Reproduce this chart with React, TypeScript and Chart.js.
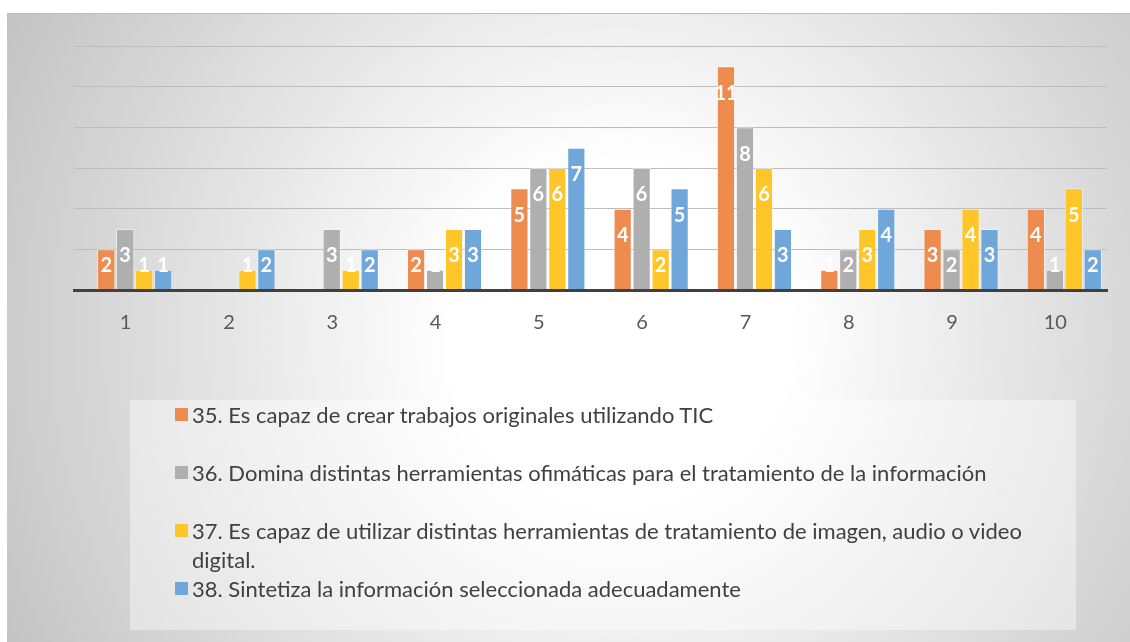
import React, { useEffect, useRef } from "react";
import { Chart, registerables } from "chart.js";

Chart.register(...registerables);

const categories = ["1", "2", "3", "4", "5", "6", "7", "8", "9", "10"];
const seriesLabels = [
  "35. Es capaz de crear trabajos originales utilizando TIC",
  "36. Domina distintas herramientas ofimáticas para el tratamiento de la información",
  "37. Es capaz de utilizar distintas herramientas de tratamiento de imagen, audio o video digital.",
  "38. Sintetiza la información seleccionada adecuadamente",
];
const s35 = [2, 0, 0, 2, 5, 4, 11, 1, 3, 4];
const s36 = [3, 0, 3, 1, 6, 6, 8, 2, 2, 1];
const s37 = [1, 1, 1, 3, 6, 2, 6, 3, 4, 5];
const s38 = [1, 2, 2, 3, 7, 5, 3, 4, 3, 2];
const seriesValues = [s35, s36, s37, s38];
const seriesColors = ["#EE8B4F", "#AFAFAF", "#FFC629", "#6FA7DA"];
const yMax = 12;
const yStep = 2;

const FONT = "Lato, 'Open Sans', sans-serif";
const GROUP_SHIFT = 9;

const shiftPlugin = {
  id: "groupShift",
  beforeDatasetsDraw(chart: any) {
    chart.ctx.save();
    chart.ctx.translate(GROUP_SHIFT, 0);
  },
  afterDatasetsDraw(chart: any) {
    chart.ctx.restore();
  },
};

const labelPlugin = {
  id: "barLabels",
  afterDatasetsDraw(chart: any) {
    const ctx = chart.ctx;
    const base = chart.scales.y.getPixelForValue(0);
    ctx.save();
    ctx.fillStyle = "#ffffff";
    ctx.font = `bold 20px ${FONT}`;
    ctx.textAlign = "center";
    ctx.textBaseline = "middle";
    chart.data.datasets.forEach((ds: any, i: number) => {
      const meta = chart.getDatasetMeta(i);
      meta.data.forEach((bar: any, j: number) => {
        const v = ds.data[j];
        if (!v) return;
        const y = Math.min(bar.y + 27, base - 24);
        ctx.fillText(String(v), bar.x + GROUP_SHIFT, y);
      });
    });
    ctx.restore();
  },
};

export default function App() {
  const ref = useRef<HTMLCanvasElement | null>(null);

  useEffect(() => {
    document.body.style.margin = "0";
    if (!ref.current) return;
    const chart = new Chart(ref.current, {
      type: "bar",
      data: {
        labels: categories,
        datasets: seriesValues.map((vals, i) => ({
          label: seriesLabels[i],
          data: vals,
          backgroundColor: seriesColors[i],
          borderColor: "rgba(255,255,255,0.45)",
          borderWidth: 1,
          categoryPercentage: 0.735,
          barPercentage: 0.96,
        })),
      },
      options: {
        animation: false,
        responsive: false,
        maintainAspectRatio: false,
        layout: { padding: { left: 67, right: 23, top: 32, bottom: 287 } },
        plugins: { legend: { display: false }, tooltip: { enabled: false } },
        scales: {
          x: {
            grid: { display: false, drawTicks: false },
            border: { display: true, color: "#404040", width: 3, z: 1 },
            ticks: {
              color: "#595959",
              font: { family: FONT, size: 20 },
              padding: 21,
            },
          },
          y: {
            min: 0,
            max: yMax,
            ticks: { stepSize: yStep, display: false },
            grid: { color: "#bdbdbd", lineWidth: 1, drawTicks: false },
            border: { display: false },
            afterFit: (s: any) => {
              s.width = 0;
            },
          },
        },
      },
      plugins: [shiftPlugin, labelPlugin],
    });
    return () => chart.destroy();
  }, []);

  return (
    <div style={{ position: "relative", width: 1130, height: 642, background: "#fff", overflow: "hidden" }}>
      <div
        style={{
          position: "absolute",
          left: 7,
          top: 13,
          width: 1123,
          height: 629,
          borderTop: "1px solid #bdbdbd",
          boxSizing: "border-box",
          background: "radial-gradient(circle at 613px 320px, #ffffff 170px, #c2c2c2 700px)",
        }}
      >
        <canvas ref={ref} width={1123} height={629} style={{ position: "absolute", left: 0, top: 0 }} />
        <div
          style={{
            position: "absolute",
            left: 123,
            top: 386,
            width: 946,
            height: 230,
            background: "rgba(255,255,255,0.4)",
            fontFamily: FONT,
            fontSize: 22,
            color: "#404040",
          }}
        >
          {seriesLabels.map((lab, i) => (
            <div key={i} style={{ position: "relative", height: 58, lineHeight: "29px", paddingLeft: 62, width: 940, boxSizing: "border-box" }}>
              <span
                style={{
                  position: "absolute",
                  left: 45,
                  top: 8,
                  width: 13,
                  height: 13,
                  background: seriesColors[i],
                }}
              />
              {lab}
            </div>
          ))}
        </div>
      </div>
    </div>
  );
}
